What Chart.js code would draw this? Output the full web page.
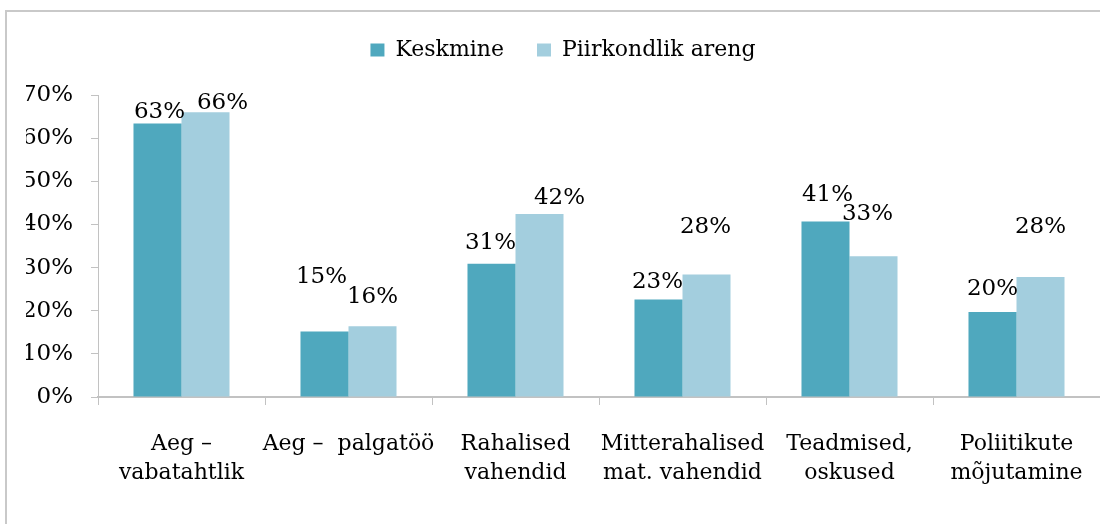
<!DOCTYPE html>
<html>
<head>
<meta charset="utf-8">
<script src="https://cdn.jsdelivr.net/npm/chart.js@4"></script>
<style>
  html, body { margin: 0; padding: 0; background: #fff; overflow: hidden; }
  #wrap  { position: relative; width: 1100px; height: 524px; overflow: hidden; }
  #frame { position: absolute; left: 5px; top: 10px; right: 0; bottom: 0;
           border-top: 2px solid #c9c9c9; border-left: 2px solid #c9c9c9; }
  #c     { position: absolute; left: 0; top: 0; }
</style>
</head>
<body>
<div id="wrap">
  <div id="frame"></div>
  <canvas id="c" width="1100" height="524"></canvas>
</div>
<script>
/* data */
var categories = [
  ['Aeg –', 'vabatahtlik'],
  'Aeg –  palgatöö',
  ['Rahalised', 'vahendid'],
  ['Mitterahalised', 'mat. vahendid'],
  ['Teadmised,', 'oskused'],
  ['Poliitikute', 'mõjutamine']
];
var seriesNames = ['Keskmine', 'Piirkondlik areng'];
var keskmine    = [63.4, 15.2, 30.9, 22.6, 40.7, 19.7];
var piirkondlik = [66.0, 16.4, 42.4, 28.4, 32.6, 27.8];
var yMax = 70, yStep = 10;

/* label placement, as hand-moved in the original: [dx, gap above bar top] */
var keskmineLabelShift    = [[2, 5], [-3, 48], [-1, 15], [-1, 11], [2, 20], [0, 17]];
var piirkondlikLabelShift = [[17, 3], [0, 23], [20, 10], [-1, 41], [-6, 36], [0, 44]];

var FONT  = 'DejaVu Serif';
var TEXT  = '#000';
var AXIS  = '#c2c2c2';
var cols  = ['#4fa8be', '#a3cede'];

Chart.defaults.font.family = FONT;
Chart.defaults.font.size   = 22;
Chart.defaults.color       = TEXT;

var valueLabels = {
  id: 'valueLabels',
  afterDatasetsDraw: function (chart) {
    var ctx = chart.ctx;
    var shifts = [keskmineLabelShift, piirkondlikLabelShift];
    ctx.save();
    ctx.font = '23px "' + FONT + '"';
    ctx.fillStyle = TEXT;
    ctx.textAlign = 'center';
    ctx.textBaseline = 'alphabetic';
    chart.data.datasets.forEach(function (ds, di) {
      chart.getDatasetMeta(di).data.forEach(function (bar, i) {
        var s = shifts[di][i];
        ctx.fillText(Math.round(ds.data[i]) + '%', bar.x + s[0], bar.y - s[1]);
      });
    });
    ctx.restore();
  }
};

// extra room under the legend, like the original
var legendGap = {
  id: 'legendGap',
  beforeInit: function (chart) {
    var fit = chart.legend.fit;
    chart.legend.fit = function () { fit.call(this); this.height += 24; };
  }
};

new Chart(document.getElementById('c'), {
  type: 'bar',
  data: {
    labels: categories,
    datasets: [
      { label: seriesNames[0], data: keskmine,    backgroundColor: cols[0], borderWidth: 0 },
      { label: seriesNames[1], data: piirkondlik, backgroundColor: cols[1], borderWidth: 0 }
    ]
  },
  options: {
    responsive: false, animation: false,
    layout: { padding: { top: 6, left: 26, right: 0, bottom: 0 } },
    datasets: { bar: { categoryPercentage: 0.575, barPercentage: 1 } },
    plugins: {
      legend: {
        position: 'top',
        labels: { boxWidth: 14, boxHeight: 13, padding: 33, color: TEXT, font: { size: 22 } }
      },
      tooltip: { enabled: false }
    },
    scales: {
      x: {
        grid: { drawOnChartArea: false, drawTicks: true, tickLength: 8, color: AXIS, offset: true },
        border: { color: AXIS, width: 2 },
        ticks: { maxRotation: 0, autoSkip: false, padding: 25, color: TEXT, font: { size: 22, lineHeight: 1.3 } },
        afterFit: function (s) { s.height = 127; s.paddingLeft = 0; s.paddingRight = 0; }
      },
      y: {
        min: 0, max: yMax,
        grid: { drawOnChartArea: false, drawTicks: true, tickLength: 7, color: AXIS },
        border: { color: AXIS, width: 1 },
        ticks: {
          stepSize: yStep, padding: 18, color: TEXT, font: { size: 23 },
          callback: function (v) { return v + '%'; }
        },
        afterFit: function (s) { s.width = 72; }
      }
    }
  },
  plugins: [valueLabels, legendGap]
});
</script>
</body>
</html>
